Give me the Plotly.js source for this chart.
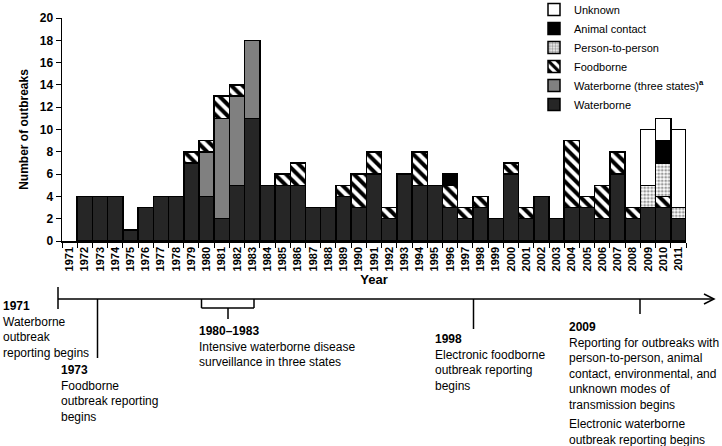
<!DOCTYPE html>
<html>
<head>
<meta charset="utf-8">
<script src="https://cdn.plot.ly/plotly-3.0.1.min.js"></script>
<style>html,body{margin:0;padding:0;background:#fff;}#chart{width:722px;height:446px;}</style>
</head>
<body>
<div id="chart"></div>
<script>
// ---- data ----
const years = ["1971","1972","1973","1974","1975","1976","1977","1978","1979","1980",
  "1981","1982","1983","1984","1985","1986","1987","1988","1989","1990",
  "1991","1992","1993","1994","1995","1996","1997","1998","1999","2000",
  "2001","2002","2003","2004","2005","2006","2007","2008","2009","2010","2011"];
const waterborne = [0,4,4,4,1,3,4,4,7,4, 2,5,11,5,5,5,3,3,4,3, 6,2,6,5,5,3,2,3,2,6, 2,4,2,3,3,2,6,2,3,3,2];
const waterborneThreeStates = [0,0,0,0,0,0,0,0,0,4, 9,8,7,0,0,0,0,0,0,0, 0,0,0,0,0,0,0,0,0,0, 0,0,0,0,0,0,0,0,0,0,0];
const foodborne = [0,0,0,0,0,0,0,0,1,1, 2,1,0,0,1,2,0,0,1,3, 2,1,0,3,0,2,1,1,0,1, 1,0,0,6,1,3,2,1,0,1,0];
const personToPerson = [0,0,0,0,0,0,0,0,0,0, 0,0,0,0,0,0,0,0,0,0, 0,0,0,0,0,0,0,0,0,0, 0,0,0,0,0,0,0,0,2,3,1];
const animalContact = [0,0,0,0,0,0,0,0,0,0, 0,0,0,0,0,0,0,0,0,0, 0,0,0,0,0,1,0,0,0,0, 0,0,0,0,0,0,0,0,0,2,0];
const unknown = [0,0,0,0,0,0,0,0,0,0, 0,0,0,0,0,0,0,0,0,0, 0,0,0,0,0,0,0,0,0,0, 0,0,0,0,0,0,0,0,5,2,7];
const yTicks = [0,2,4,6,8,10,12,14,16,18,20];

const events = [
  {key:"1971", title:"1971", text:["Waterborne","outbreak","reporting begins"]},
  {key:"1973", title:"1973", text:["Foodborne","outbreak reporting","begins"]},
  {key:"1980–1983", title:"1980–1983", text:["Intensive waterborne disease","surveillance in three states"]},
  {key:"1998", title:"1998", text:["Electronic foodborne","outbreak reporting","begins"]},
  {key:"2009", title:"2009", text:["Reporting for outbreaks with","person-to-person, animal","contact, environmental, and","unknown modes of","transmission begins"],
    extra:["Electronic waterborne","outbreak reporting begins"]}
];

// ---- styling ----
const FONT = "'Liberation Sans',Arial,sans-serif";
const nz = a => a.map(v => v === 0 ? null : v);
const outline = {color:"#000", width:1.5};

const traces = [
  {name:"Waterborne", y:nz(waterborne), marker:{color:"#262626", line:outline}},
  {name:"Waterborne (three states)<b><sup>a</sup></b>", y:nz(waterborneThreeStates), marker:{color:"#808080", line:outline}},
  {name:"Foodborne", y:nz(foodborne), marker:{color:"#fff", line:outline,
      pattern:{shape:"\\", fgcolor:"#000", bgcolor:"#fff", size:8, solidity:0.5}}},
  {name:"Person-to-person", y:nz(personToPerson), marker:{color:"#fff", line:outline,
      pattern:{shape:".", fgcolor:"#9a9a9a", bgcolor:"#fff", size:3.5, solidity:0.5}}},
  {name:"Animal contact", y:nz(animalContact), marker:{color:"#000", line:outline}},
  {name:"Unknown", y:nz(unknown), marker:{color:"#fff", line:outline}}
].map(t => Object.assign({type:"bar", x:years, hoverinfo:"skip"}, t));

// pixel -> paper helpers (plot area: x 62..686, y 18..241)
const W=722, H=446;
const PL=62, PR=686, PT=18, PB=241;
const px = x => (x-PL)/(PR-PL);
const py = y => (PB-y)/(PB-PT);

const LINE_Y = 299;
const shapes = [];
const ln = (x0,y0,x1,y1) => shapes.push({type:"line", xref:"paper", yref:"paper",
  x0:px(x0), y0:py(y0), x1:px(x1), y1:py(y1), line:{color:"#000", width:1.5}});
// timeline arrow
ln(58, LINE_Y, 714, LINE_Y);
shapes.push({type:"path", xref:"paper", yref:"paper",
  path:`M ${px(704)} ${py(LINE_Y-5)} L ${px(714)} ${py(LINE_Y)} L ${px(704)} ${py(LINE_Y+5)}`,
  line:{color:"#000", width:1.5}});
// markers
ln(58, LINE_Y-12, 58, LINE_Y+10);          // 1971
ln(97.5, LINE_Y, 97.5, LINE_Y+59);         // 1973
ln(201.5, LINE_Y, 201.5, LINE_Y+9);        // 1980
ln(254, LINE_Y, 254, LINE_Y+9);            // 1983
ln(201.5, LINE_Y+9, 254, LINE_Y+9);
ln(228, LINE_Y+9, 228, LINE_Y+20);
ln(473.5, LINE_Y, 473.5, LINE_Y+30);       // 1998
ln(640, LINE_Y, 640, LINE_Y+15);           // 2009

const blockPos = {
  "1971": [1, 297],
  "1973": [59, 361],
  "1980–1983": [197, 322],
  "1998": [433, 330],
  "2009": [567, 318]
};
const annFont = {family:FONT, size:12, color:"#000"};
const annotations = [];
events.forEach(ev => {
  const [x,y] = blockPos[ev.key];
  annotations.push({xref:"paper", yref:"paper", x:px(x), y:py(y), xanchor:"left", yanchor:"top",
    showarrow:false, align:"left", font:annFont,
    text:"<b>"+ev.title+"</b><br>"+ev.text.join("<br>")});
  if (ev.extra) {
    annotations.push({xref:"paper", yref:"paper", x:px(x), y:py(y+97), xanchor:"left", yanchor:"top",
      showarrow:false, align:"left", font:annFont, text:ev.extra.join("<br>")});
  }
});

const layout = {
  width:W, height:H,
  margin:{l:PL, r:W-PR, t:PT, b:H-PB, pad:0, autoexpand:false},
  paper_bgcolor:"#fff", plot_bgcolor:"#fff",
  barmode:"stack", bargap:0,
  font:{family:FONT, color:"#000"},
  showlegend:true,
  legend:{x:px(534), y:py(-5), xanchor:"left", yanchor:"top",
    traceorder:"reversed", font:{family:FONT, size:11, color:"#000"},
    bgcolor:"rgba(0,0,0,0)", borderwidth:0},
  xaxis:{type:"category", tickmode:"array", tickvals:years, ticktext:years,
    tickangle:-90, tickson:"boundaries", ticks:"outside", ticklen:5,
    tickcolor:"#000", showline:true, linecolor:"#000", linewidth:1.5, showgrid:false,
    tickfont:{family:FONT, size:11, weight:"bold", color:"#000"}, automargin:false,
    title:{text:"<b>Year</b>", font:{family:FONT, size:13, color:"#000"}, standoff:4}},
  yaxis:{range:[0,20], tickmode:"array", tickvals:yTicks, ticks:"outside", ticklen:5, tickcolor:"#000",
    showline:true, linecolor:"#000", linewidth:1.5, showgrid:false, zeroline:false,
    tickfont:{family:FONT, size:12, weight:"bold", color:"#000"}, automargin:false,
    title:{text:"<b>Number of outbreaks</b>", font:{family:FONT, size:12, color:"#000"}, standoff:8}},
  shapes, annotations
};

Plotly.newPlot("chart", traces, layout, {staticPlot:true, displayModeBar:false});
</script>
</body>
</html>
